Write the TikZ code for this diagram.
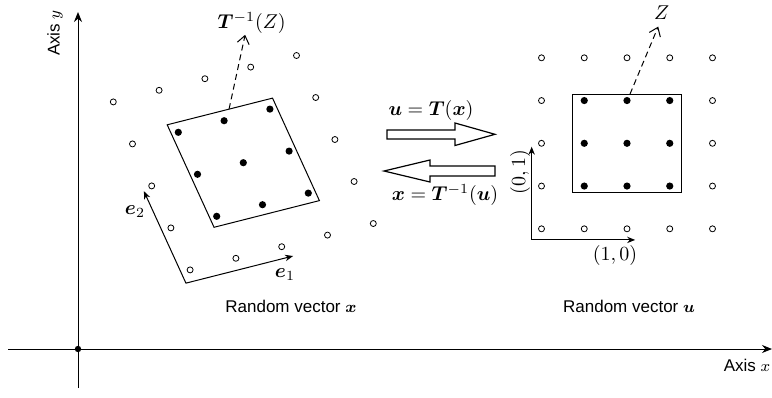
\documentclass[tikz,border=0pt]{standalone}
\usepackage{amsmath,amsthm,bm}
\usepackage{fontspec}
\setsansfont{Liberation Sans}
\usepackage{tikz}
\usetikzlibrary{arrows.meta}

\begin{document}
\begin{tikzpicture}[x=0.5pt,y=-0.5pt,line width=0.5pt,
    sanslabel/.style={font=\sffamily\fontsize{8.5}{10}\selectfont},
    basis/.style={{Stealth[length=4pt,width=3.2pt]}-{Stealth[length=4pt,width=3.2pt]}},
    preimage/.style={densely dashed,-{Straight Barb[length=4pt,width=6pt]}},
    bigarrow/.style={draw,line width=0.6pt,fill=white}]
  \useasboundingbox (0,0) rectangle (772,397);

  % axes
  \coordinate (origin) at (78,349);
  \coordinate (ytip) at (78,12);
  \coordinate (xtip) at (772,349);
  \draw[-{Stealth[length=5pt,width=4pt]}] (78,388) -- (ytip);
  \draw[-{Stealth[length=5pt,width=4pt]}] (8,349) -- (xtip);
  \fill (origin) circle[radius=1.6pt];
  \node[sanslabel,rotate=90] (axisy) at (55,33) {Axis $y$};
  \node[sanslabel] (axisx) at (747,365) {Axis $x$};

  % lattice of x (skewed)
  \begin{scope}[shift={(243.3,162.7)},x={(22.9pt,5.8pt)},y={(9.6pt,-21pt)}]
    \draw (-1.15,-1.22) -- (1.15,-1.22) -- (1.15,1.22) -- (-1.15,1.22) -- cycle;
    \foreach \i in {-2,...,2}
      \foreach \j in {-2,...,2} {
        \pgfmathtruncatemacro\inbox{(abs(\i)<2)&&(abs(\j)<2)}
        \ifnum\inbox=1
          \fill (\i,\j) circle[radius=1.8pt];
        \else
          \draw[line width=0.4pt] (\i,\j) circle[radius=1.5pt];
        \fi
      }
    \coordinate (xcorner) at (-2.2,2.26);
    \coordinate (e1tip) at (0.14,2.26);
    \coordinate (e2tip) at (-2.2,0.07);
    \draw[basis] (e2tip) -- (xcorner) -- (e1tip);
    \coordinate (xedge) at (0.2,-1.22);
    \coordinate (xpre) at (1.18,-2.72);
    \draw[preimage] (xedge) -- (xpre);
  \end{scope}
  \node (lblTinvZ) at (251.7,23) {$\bm{T}^{-1}(Z)$};
  \node (lble1) at (285,275) {$\bm{e}_1$};
  \node (lble2) at (135,212) {$\bm{e}_2$};
  \node[sanslabel] (lblx) at (291,306) {Random vector $\bm{x}$};

  % lattice of u (square)
  \begin{scope}[shift={(627,143.3)},x={(21.375pt,0pt)},y={(0pt,-21.375pt)}]
    \draw (-1.27,-1.15) rectangle (1.27,1.15);
    \foreach \i in {-2,...,2}
      \foreach \j in {-2,...,2} {
        \pgfmathtruncatemacro\inbox{(abs(\i)<2)&&(abs(\j)<2)}
        \ifnum\inbox=1
          \fill (\i,\j) circle[radius=1.8pt];
        \else
          \draw[line width=0.4pt] (\i,\j) circle[radius=1.5pt];
        \fi
      }
    \coordinate (ucorner) at (-2.23,2.26);
    \coordinate (u1tip) at (0.19,2.26);
    \coordinate (u2tip) at (-2.23,0.08);
    \draw[basis] (u2tip) -- (ucorner) -- (u1tip);
    \coordinate (uedge) at (0.07,-1.15);
    \coordinate (upre) at (0.73,-2.73);
    \draw[preimage] (uedge) -- (upre);
  \end{scope}
  \node (lblZ) at (661.7,13) {$Z$};
  \node (lbl10) at (615,255) {$(1,0)$};
  \node[rotate=90] (lbl01) at (520,172) {$(0,1)$};
  \node[sanslabel] (lblu) at (629,306) {Random vector $\bm{u}$};

  % transformation arrows
  \draw[bigarrow] (387,130) -- (455,130) -- (455,123) -- (495,134.3)
    -- (455,145.5) -- (455,139) -- (387,139) -- cycle;
  \draw[bigarrow] (495,166) -- (430,166) -- (430,160) -- (384,171)
    -- (430,182) -- (430,176) -- (495,176) -- cycle;
  \node (lblT) at (431,110) {$\bm{u}=\bm{T}(\bm{x})$};
  \node (lblTinv) at (445,195) {$\bm{x}=\bm{T}^{-1}(\bm{u})$};
\end{tikzpicture}
\end{document}
